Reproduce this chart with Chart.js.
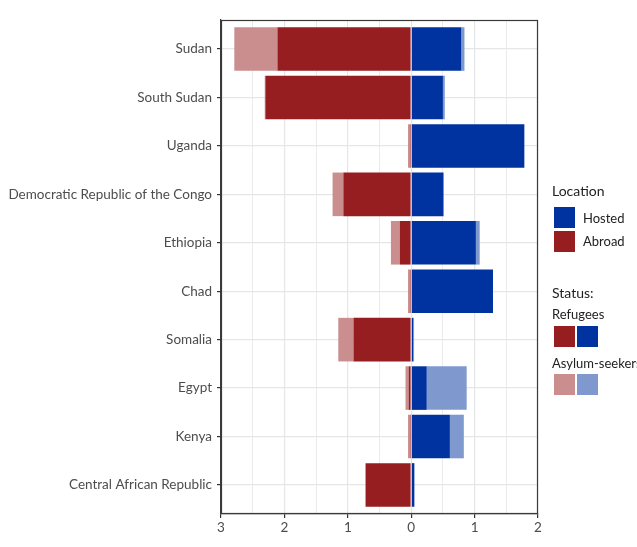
<!DOCTYPE html>
<html>
<head>
<meta charset="utf-8">
<script src="https://cdn.jsdelivr.net/npm/chart.js@4.4.1/dist/chart.umd.min.js"></script>
<style>
  html, body { margin: 0; padding: 0; background: #fff; }
  #wrap { position: relative; width: 637px; height: 547px; overflow: hidden; font-family: Lato, "Open Sans", sans-serif; }
  #c { position: absolute; left: 0; top: 0; }
  .lg { position: absolute; white-space: nowrap; color: #222; font-size: 13px; line-height: 16px; }
  .sq { position: absolute; width: 21px; height: 21px; }
</style>
</head>
<body>
<div id="wrap">
  <canvas id="c" width="637" height="547"></canvas>
  <div class="lg" style="left:552px;top:183px;font-size:14px;">Location</div>
  <div class="sq" style="left:554px;top:207px;background:#0033a0;"></div>
  <div class="lg" style="left:583px;top:210px;">Hosted</div>
  <div class="sq" style="left:554px;top:231px;background:#961d20;"></div>
  <div class="lg" style="left:583px;top:233px;">Abroad</div>
  <div class="lg" style="left:552px;top:285px;font-size:14px;">Status:</div>
  <div class="lg" style="left:552px;top:306px;">Refugees</div>
  <div class="sq" style="left:554px;top:326px;background:#961d20;"></div>
  <div class="sq" style="left:577px;top:326px;background:#0033a0;"></div>
  <div class="lg" style="left:552px;top:355px;">Asylum-seekers</div>
  <div class="sq" style="left:554px;top:374px;background:#ca8e8f;"></div>
  <div class="sq" style="left:577px;top:374px;background:#7f99cf;"></div>
</div>
<script>
const categories = ["Sudan", "South Sudan", "Uganda", "Democratic Republic of the Congo", "Ethiopia", "Chad", "Somalia", "Egypt", "Kenya", "Central African Republic"];
// millions
const hostedRefugees = [0.79, 0.50, 1.78, 0.51, 1.02, 1.29, 0.03, 0.245, 0.61, 0.05];
const hostedAsylum   = [0.05, 0.03, 0.01, 0.00, 0.06, 0.00, 0.015, 0.63, 0.22, 0.00];
const abroadRefugees = [2.11, 2.30, 0.02, 1.07, 0.18, 0.02, 0.91, 0.04, 0.02, 0.72];
const abroadAsylum   = [0.68, 0.01, 0.03, 0.17, 0.14, 0.03, 0.24, 0.05, 0.03, 0.00];
const xTicks = [-3, -2, -1, 0, 1, 2];

const pts = (arr, sign) => arr.map((v, i) => ({ x: sign * v, y: i + 1 }));

const panelBorder = {
  id: 'panelBorder',
  afterDraw(chart) {
    const { ctx, chartArea: a } = chart;
    ctx.save();
    ctx.strokeStyle = '#3a3a3a';
    ctx.lineWidth = 1.2;
    ctx.strokeRect(Math.round(a.left) + 0.5, Math.round(a.top) + 0.5, Math.round(a.right - a.left) - 1, Math.round(a.bottom - a.top) - 1);
    ctx.restore();
  }
};

new Chart(document.getElementById('c'), {
  type: 'bar',
  data: {
    datasets: [
      { label: 'Hosted refugees', data: pts(hostedRefugees, 1), backgroundColor: '#0033a0', stack: 's' },
      { label: 'Abroad refugees', data: pts(abroadRefugees, -1), backgroundColor: '#961d20', stack: 's' },
      { label: 'Hosted asylum-seekers', data: pts(hostedAsylum, 1), backgroundColor: '#7f99cf', stack: 's' },
      { label: 'Abroad asylum-seekers', data: pts(abroadAsylum, -1), backgroundColor: '#ca8e8f', stack: 's' }
    ]
  },
  options: {
    indexAxis: 'y',
    responsive: false,
    animation: false,
    devicePixelRatio: 1,
    layout: { padding: { top: 20, right: 99, left: 0, bottom: 0 } },
    datasets: { bar: { categoryPercentage: 1, barPercentage: 0.9, borderWidth: 0 } },
    plugins: { legend: { display: false }, tooltip: { enabled: false } },
    scales: {
      x: {
        type: 'linear', min: -3, max: 2, stacked: true, offset: false,
        afterBuildTicks: s => { const t = []; for (let v = -3; v <= 2.001; v += 0.5) t.push({ value: Math.round(v * 2) / 2 }); s.ticks = t; },
        afterFit: s => { s.height = 33; },
        ticks: {
          autoSkip: false, maxRotation: 0, padding: 2,
          color: '#4d4d4d', font: { family: 'Lato', size: 13.5 },
          callback: v => xTicks.includes(v) ? String(Math.abs(v)) : ''
        },
        grid: {
          offset: false,
          color: '#e6e6e6',
          lineWidth: c => (c.tick && Number.isInteger(c.tick.value)) ? 1.2 : 0.8,
          tickLength: 4,
          tickColor: c => (c.tick && Number.isInteger(c.tick.value)) ? '#333333' : 'rgba(0,0,0,0)',
          tickWidth: 1.2
        },
        border: { display: true, color: '#3a3a3a', width: 1.2 }
      },
      y: {
        type: 'linear', min: 0.4, max: 10.6, reverse: true, stacked: true, offset: false,
        afterBuildTicks: s => { s.ticks = categories.map((_, i) => ({ value: i + 1 })); },
        afterFit: s => { s.width = 221; },
        ticks: {
          autoSkip: false, padding: 5,
          color: '#4d4d4d', font: { family: 'Lato', size: 13.5 },
          callback: v => categories[v - 1]
        },
        grid: { offset: false, color: '#e6e6e6', lineWidth: 1.2, tickLength: 4, tickColor: '#333333', tickWidth: 1.2 },
        border: { display: true, color: '#3a3a3a', width: 1.2 }
      }
    }
  },
  plugins: [panelBorder]
});
</script>
</body>
</html>
